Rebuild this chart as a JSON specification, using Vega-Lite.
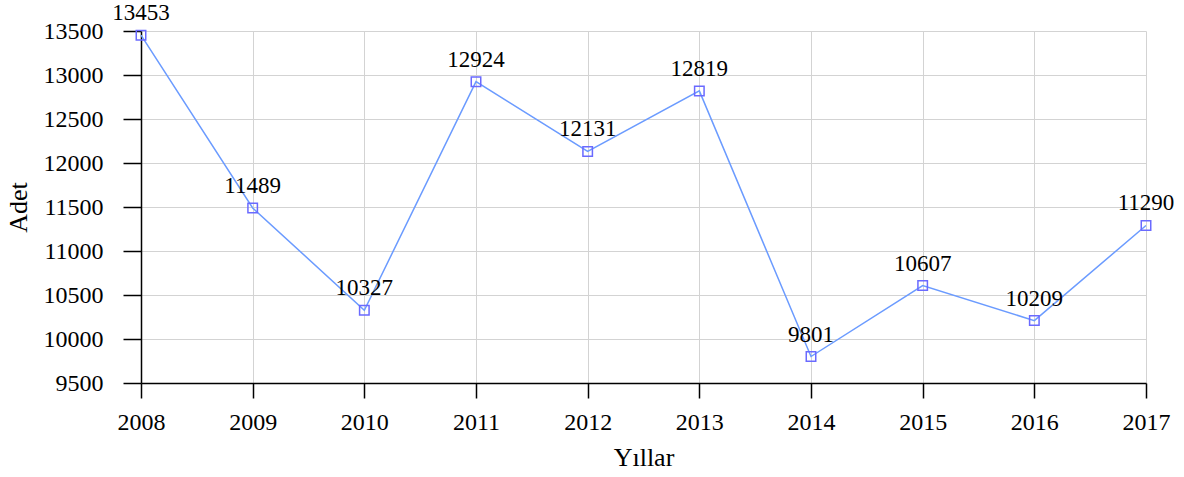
{
  "$schema": "https://vega.github.io/schema/vega-lite/v6.json",
  "width": 1005,
  "height": 352,
  "autosize": {"type": "none"},
  "padding": {"left": 141, "top": 31, "right": 38, "bottom": 94},
  "background": "white",
  "config": {
    "view": {"stroke": null},
    "font": "Liberation Serif",
    "axis": {
      "labelFont": "Liberation Serif",
      "titleFont": "Liberation Serif",
      "labelFontSize": 24,
      "titleFontSize": 26,
      "labelColor": "black",
      "titleColor": "black",
      "titleFontWeight": "normal",
      "domainColor": "black",
      "domainWidth": 1.5,
      "tickColor": "black",
      "tickWidth": 1.5,
      "gridColor": "#d3d3d3",
      "gridWidth": 1,
      "labelFlush": false,
      "labelOverlap": false
    }
  },
  "data": {
    "values": [
      {"year": 2008, "value": 13453},
      {"year": 2009, "value": 11489},
      {"year": 2010, "value": 10327},
      {"year": 2011, "value": 12924},
      {"year": 2012, "value": 12131},
      {"year": 2013, "value": 12819},
      {"year": 2014, "value": 9801},
      {"year": 2015, "value": 10607},
      {"year": 2016, "value": 10209},
      {"year": 2017, "value": 11290}
    ]
  },
  "encoding": {
    "x": {
      "field": "year",
      "type": "quantitative",
      "scale": {"domain": [2008, 2017], "nice": false, "zero": false},
      "axis": {
        "title": "Yıllar",
        "values": [2008, 2009, 2010, 2011, 2012, 2013, 2014, 2015, 2016, 2017],
        "format": "d",
        "tickSize": 15,
        "labelPadding": 12,
        "titlePadding": 10
      }
    },
    "y": {
      "field": "value",
      "type": "quantitative",
      "scale": {"domain": [9500, 13500], "nice": false, "zero": false},
      "axis": {
        "title": "Adet",
        "values": [9500, 10000, 10500, 11000, 11500, 12000, 12500, 13000, 13500],
        "format": "d",
        "tickSize": 18,
        "labelPadding": 20,
        "titlePadding": 12
      }
    }
  },
  "layer": [
    {
      "mark": {"type": "line", "color": "#6b9bff", "strokeWidth": 1.5}
    },
    {
      "mark": {"type": "point", "shape": "square", "size": 90, "filled": false, "stroke": "#6a6aff", "strokeWidth": 1.5, "opacity": 1}
    },
    {
      "mark": {"type": "text", "font": "Liberation Serif", "fontSize": 23, "dy": -15, "baseline": "alphabetic", "align": "center", "color": "black"},
      "encoding": {"text": {"field": "value", "type": "quantitative", "format": "d"}}
    }
  ]
}
